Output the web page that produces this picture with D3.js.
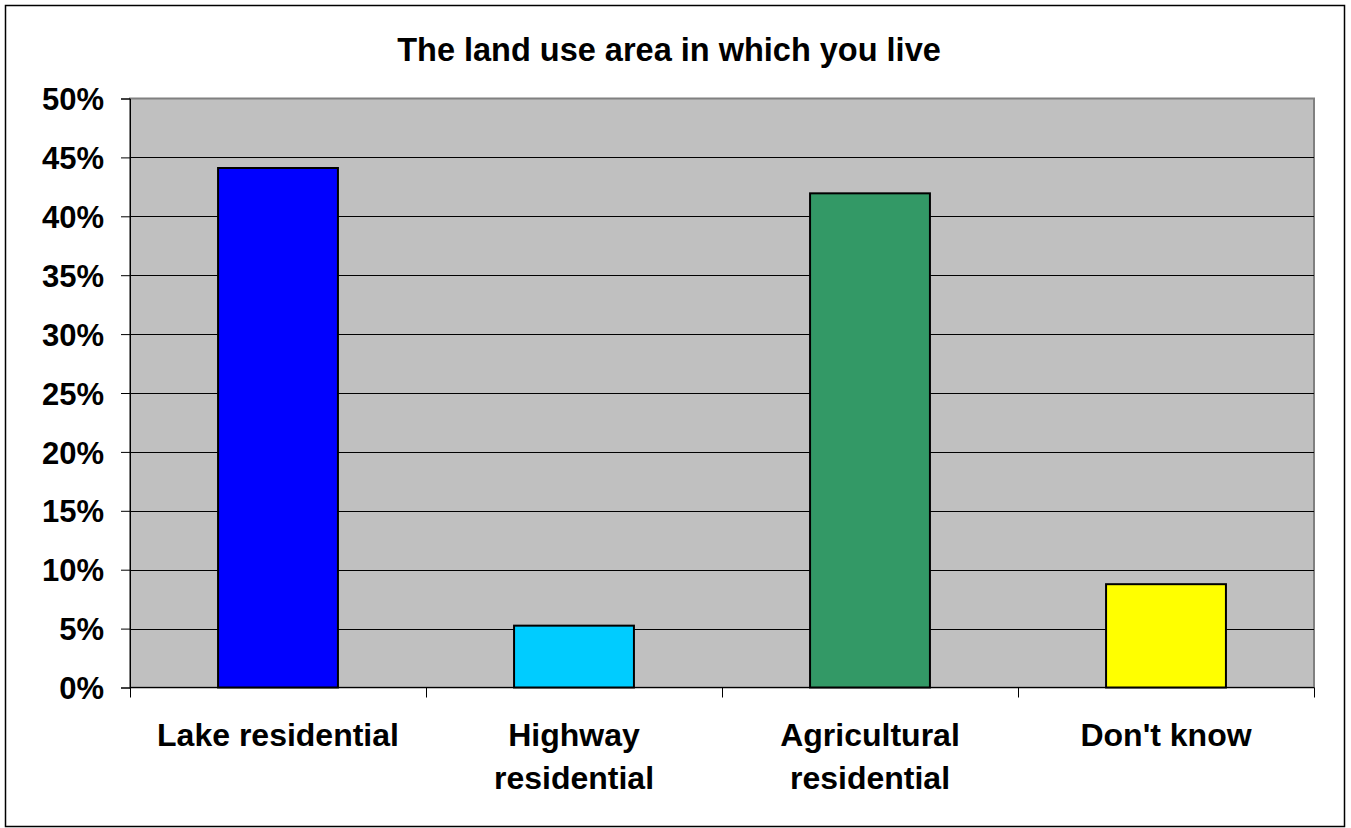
<!DOCTYPE html>
<html>
<head>
<meta charset="utf-8">
<script src="https://cdn.jsdelivr.net/npm/d3@7"></script>
<style>
  html, body { margin: 0; padding: 0; background: #fff; }
  svg { display: block; }
  text { font-family: "Liberation Sans", Arial, sans-serif; font-weight: bold; fill: #000; }
</style>
</head>
<body>
<svg id="chart" width="1351" height="828"></svg>
<script>
const title = "The land use area in which you live";
const categories = [["Lake residential"], ["Highway", "residential"], ["Agricultural", "residential"], ["Don't know"]];
const values = [0.441, 0.0525, 0.4195, 0.0877];
const colors = ["#0000ff", "#00ccff", "#339966", "#ffff00"];
const yTicks = [0, 0.05, 0.10, 0.15, 0.20, 0.25, 0.30, 0.35, 0.40, 0.45, 0.50];

const svg = d3.select("#chart");
const plot = { left: 130, right: 1314, top: 98.5, bottom: 687.5 };

// outer border
svg.append("rect").attr("x", 5.5).attr("y", 5.5).attr("width", 1339).attr("height", 821)
  .attr("fill", "#fff").attr("stroke", "#000").attr("stroke-width", 1.5);

const x = d3.scaleBand().domain(d3.range(categories.length)).range([plot.left, plot.right]).paddingInner(0.595).paddingOuter(0.2975);
const xb = d3.scaleLinear().domain([0, categories.length]).range([plot.left, plot.right]);
const y = d3.scaleLinear().domain([0, 0.5]).range([plot.bottom, plot.top]);

// plot area
svg.append("rect").attr("x", plot.left).attr("y", plot.top).attr("width", plot.right - plot.left).attr("height", plot.bottom - plot.top)
  .attr("fill", "#c0c0c0").attr("stroke", "#808080").attr("stroke-width", 2);

// gridlines
svg.append("g").selectAll("line").data(yTicks.slice(1, -1)).join("line")
  .attr("x1", plot.left).attr("x2", plot.right)
  .attr("y1", d => Math.round(y(d)) + 0.5).attr("y2", d => Math.round(y(d)) + 0.5)
  .attr("stroke", "#000").attr("stroke-width", 1);

// bars
svg.append("g").selectAll("rect").data(values).join("rect")
  .attr("x", (d, i) => x(i)).attr("width", x.bandwidth())
  .attr("y", d => y(d)).attr("height", d => y(0) - y(d))
  .attr("fill", (d, i) => colors[i]).attr("stroke", "#000").attr("stroke-width", 2);

// y axis
const yAxis = d3.axisLeft(y).tickValues(yTicks).tickFormat(d3.format(".0%")).tickSize(9).tickPadding(17);
const gy = svg.append("g").attr("transform", `translate(${plot.left},0)`).call(yAxis);
gy.select(".domain").attr("stroke", "#000").attr("stroke-width", 1);
gy.selectAll(".tick line").attr("stroke", "#000");
gy.selectAll("text").style("font-size", "31px").attr("dy", "0.36em").attr("fill", "#000");

// x axis baseline and ticks
svg.append("line").attr("x1", plot.left).attr("x2", plot.right).attr("y1", plot.bottom).attr("y2", plot.bottom)
  .attr("stroke", "#000").attr("stroke-width", 1);
svg.append("g").selectAll("line").data(d3.range(categories.length + 1)).join("line")
  .attr("x1", d => Math.round(xb(d)) + 0.5).attr("x2", d => Math.round(xb(d)) + 0.5)
  .attr("y1", plot.bottom).attr("y2", plot.bottom + 10)
  .attr("stroke", "#000").attr("stroke-width", 1);

// category labels
const cl = svg.append("g").selectAll("text").data(categories).join("text")
  .attr("x", (d, i) => x(i) + x.bandwidth() / 2).attr("y", 746)
  .attr("text-anchor", "middle").style("font-size", "32px");
cl.selectAll("tspan").data(d => d).join("tspan")
  .attr("x", function() { return d3.select(this.parentNode).attr("x"); })
  .attr("dy", (d, i) => i === 0 ? 0 : 43)
  .text(d => d);

// title
svg.append("text").attr("x", 669).attr("y", 61).attr("text-anchor", "middle")
  .style("font-size", "32.5px").text(title);
</script>
</body>
</html>
